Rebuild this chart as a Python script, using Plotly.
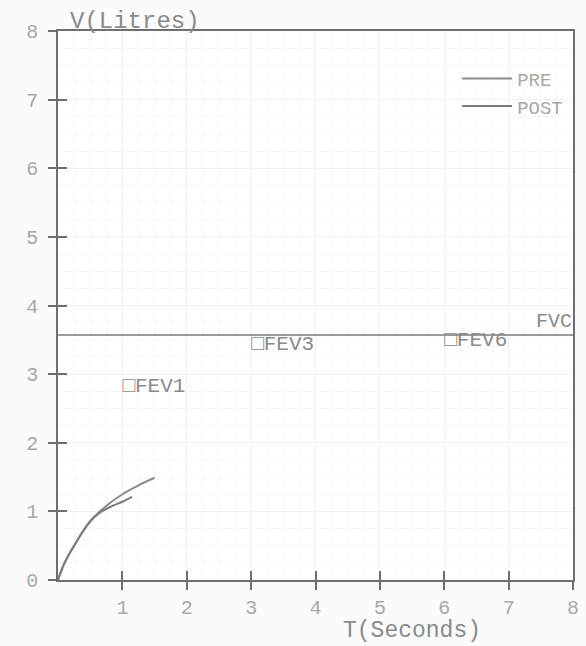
import plotly.graph_objects as go

# ---- data ----
pre_t = [0, 0.1, 0.25, 0.5, 0.75, 1.0, 1.25, 1.5]
pre_v = [0, 0.25, 0.50, 0.86, 1.08, 1.25, 1.38, 1.49]
post_t = [0, 0.1, 0.25, 0.5, 0.65, 0.8, 1.0, 1.15]
post_v = [0, 0.24, 0.50, 0.85, 0.98, 1.06, 1.14, 1.21]

fvc_value = 3.57
fev_t = [1, 3, 6]
fev_v = [2.81, 3.43, 3.48]
fev_labels = ["□FEV1", "□FEV3", "□FEV6"]

x_ticks = [1, 2, 3, 4, 5, 6, 7, 8]
y_ticks = [0, 1, 2, 3, 4, 5, 6, 7, 8]

MONO = "Liberation Mono, DejaVu Sans Mono, Courier New, monospace"
AXIS = "#6e6e6e"
TXT = "#8a8a8a"
LIGHT = "#a8a8a8"

fig = go.Figure()

fig.add_trace(go.Scatter(x=pre_t, y=pre_v, mode="lines", name="PRE",
                         line=dict(color="#8c8c8c", width=2, shape="spline")))
fig.add_trace(go.Scatter(x=post_t, y=post_v, mode="lines", name="POST",
                         line=dict(color="#7c7c7c", width=2, shape="spline")))
fig.add_trace(go.Scatter(x=[0, 8], y=[fvc_value, fvc_value], mode="lines",
                         line=dict(color="#7a7a7a", width=1.5),
                         showlegend=False, hoverinfo="skip"))
fig.add_trace(go.Scatter(x=fev_t, y=fev_v, mode="text", text=fev_labels,
                         textposition="middle right",
                         textfont=dict(family=MONO, size=21, color=TXT),
                         showlegend=False, cliponaxis=False))

# dummy trace for overlay axes (inside ticks)
fig.add_trace(go.Scatter(x=[0], y=[0], xaxis="x2", yaxis="y2", mode="markers",
                         marker=dict(opacity=0), showlegend=False, hoverinfo="skip"))

fig.add_annotation(x=7.4, y=fvc_value, yshift=14, xanchor="left", yanchor="middle",
                   text="FVC", showarrow=False,
                   font=dict(family=MONO, size=20, color=TXT))
fig.add_annotation(x=0.02, y=1, xref="paper", yref="paper", xanchor="left",
                   yanchor="bottom", yshift=-6, text="V(Litres)", showarrow=False,
                   font=dict(family=MONO, size=24, color=TXT))
fig.add_annotation(x=5.5, y=0, yref="paper", xanchor="center", yanchor="top",
                   yshift=-36, text="T(Seconds)", showarrow=False,
                   font=dict(family=MONO, size=23, color=TXT))

axis_common = dict(range=[0, 8], showline=True, linecolor=AXIS, linewidth=1.5,
                   mirror=True, zeroline=False,
                   showgrid=True, gridcolor="#f1f1f1", gridwidth=1,
                   minor=dict(showgrid=True, gridcolor="#f6f6f6", dtick=0.25),
                   ticks="outside", ticklen=8, tickcolor=AXIS, tickwidth=1.5,
                   tickfont=dict(family=MONO, size=20, color=LIGHT))

fig.update_layout(
    width=586, height=646,
    margin=dict(l=58, r=7, t=31, b=66),
    paper_bgcolor="#fbfbfb", plot_bgcolor="#ffffff",
    xaxis=dict(axis_common, tickvals=x_ticks, dtick=1),
    yaxis=dict(axis_common, tickvals=y_ticks, dtick=1, ticklabelstandoff=6),
    xaxis2=dict(overlaying="x", matches="x", range=[0, 8], anchor="y",
                side="bottom", tickvals=x_ticks[:-1], ticks="inside", ticklen=9,
                tickcolor=AXIS, tickwidth=1.5, showticklabels=False,
                showgrid=False, zeroline=False, showline=False),
    yaxis2=dict(overlaying="y", matches="y", range=[0, 8], anchor="x",
                side="left", tickvals=y_ticks[1:-1], ticks="inside", ticklen=9,
                tickcolor=AXIS, tickwidth=1.5, showticklabels=False,
                showgrid=False, zeroline=False, showline=False),
    legend=dict(x=0.775, y=0.948, xanchor="left", yanchor="top",
                bgcolor="rgba(0,0,0,0)", itemwidth=50, tracegroupgap=0,
                font=dict(family=MONO, size=19, color=LIGHT)),
    showlegend=True,
)

fig.write_html("out.html", config={"displayModeBar": False},
               post_script="document.body.style.margin='0';")
